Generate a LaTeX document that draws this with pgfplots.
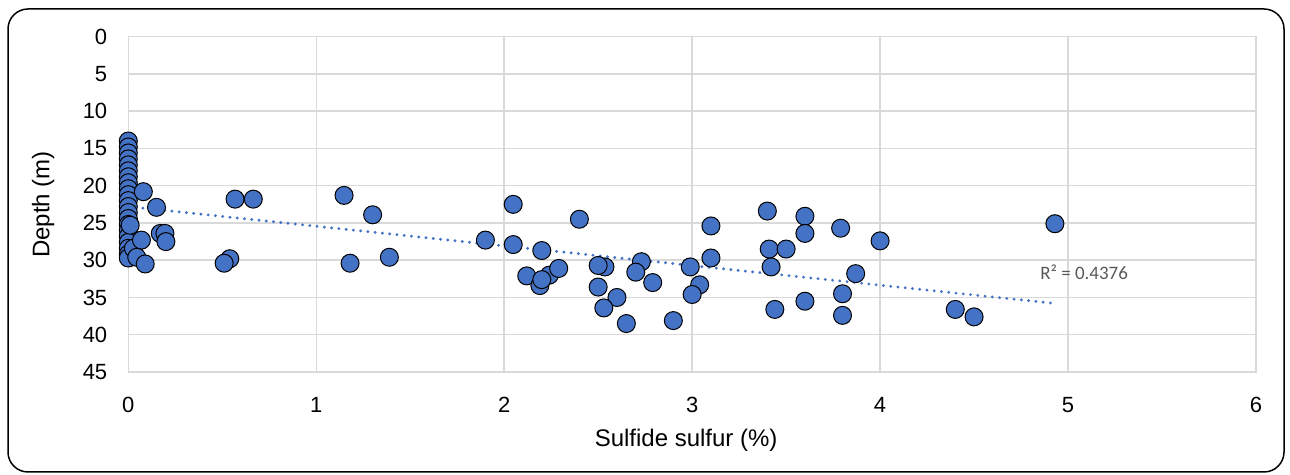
\documentclass[border=0pt]{standalone}
\usepackage{fontspec}
\setmainfont{Liberation Sans}
\newfontfamily\calibri{Carlito}
\usepackage{pgfplots}
\pgfplotsset{compat=1.18}
\definecolor{ptblue}{HTML}{4472C4}
\definecolor{gridgray}{HTML}{D9D9D9}
\definecolor{rgray}{HTML}{595959}
\begin{document}
\begin{tikzpicture}[x=1pt,y=1pt]
\useasboundingbox (0,0) rectangle (645,237.5);
\draw[black, line width=0.75pt, rounded corners=10pt] (4,1.5) rectangle (642,233);
\begin{axis}[
  at={(64.15pt,51.5pt)}, anchor=south west,
  scale only axis, width=563.85pt, height=167.65pt,
  xmin=0, xmax=6, ymin=0, ymax=45,
  y dir=reverse,
  xtick={0,1,...,6}, ytick={0,5,...,45},
  grid=major,
  major grid style={gridgray, line width=0.75pt},
  axis line style={gridgray, line width=0.75pt},
  axis lines=box,
  tick style={draw=none},
  /pgf/number format/assume math mode=true,
  ticklabel style={font=\fontsize{11}{13}\selectfont, text=black},
  xticklabel style={yshift=-9pt},
  yticklabel style={xshift=-7pt},
  xlabel={Sulfide sulfur (\%)},
  ylabel={Depth (m)},
  label style={font=\fontsize{12}{14}\selectfont},
  xlabel style={at={(axis description cs:0.5,0)}, anchor=center, yshift=-34pt, xshift=-3pt},
  ylabel style={at={(axis description cs:0,0.5)}, anchor=center, yshift=42.6pt},
  clip=false,
]
\addplot[only marks, mark=*, mark size=4.5pt,
  mark options={fill=ptblue, draw=black, line width=0.5pt}] coordinates {
(0,14) (0,14.8) (0,15.6) (0,16.4) (0,17.2) (0,18) (0,18.8) (0,19.6) (0,20.4)
(0,21.2) (0,22) (0,22.8) (0,23.6) (0,24.4) (0,25.2) (0,26) (0,26.8) (0,27.6)
(0,28.4) (0,29.2) (0,29.7)
(0.027,28.4) (0.07,27.3) (0.045,29.6) (0.09,30.5) (0.08,20.8) (0.15,22.9)
(0.17,26.4) (0.195,26.4) (0.2,27.5) (0.01,25.3)
(0.568,21.8) (0.665,21.8) (0.54,29.8) (0.51,30.4)
(1.148,21.3) (1.30,23.9) (1.18,30.4) (1.389,29.6) (1.90,27.3)
(2.048,22.5) (2.048,27.9) (2.20,28.7) (2.40,24.5) (2.12,32.1) (2.19,33.4)
(2.24,32.0) (2.20,32.6) (2.29,31.1) (2.536,30.9) (2.50,30.7) (2.50,33.6) (2.60,35.0)
(2.53,36.4) (2.65,38.5) (2.73,30.2) (2.70,31.6) (2.79,33.0) (2.90,38.1)
(2.99,30.9) (3.04,33.3) (3.00,34.6) (3.10,25.4) (3.10,29.7)
(3.40,23.4) (3.41,28.5) (3.42,30.9) (3.44,36.6) (3.60,24.1) (3.60,26.4)
(3.79,25.7) (4.00,27.4) (3.50,28.5) (3.87,31.8) (3.80,34.5) (3.80,37.4)
(3.60,35.5) (4.40,36.6) (4.50,37.6) (4.93,25.1)
};
\addplot[ptblue, line width=1.6pt, line cap=round, dash pattern=on 0pt off 3.65pt] coordinates {(0,22.8) (4.93,35.8)};
\node[anchor=west, font=\calibri\fontsize{9.5}{11}\selectfont, text=rgray, inner sep=0pt] at (axis cs:4.85,31.6) {R² = 0.4376};
\end{axis}
\end{tikzpicture}
\end{document}
